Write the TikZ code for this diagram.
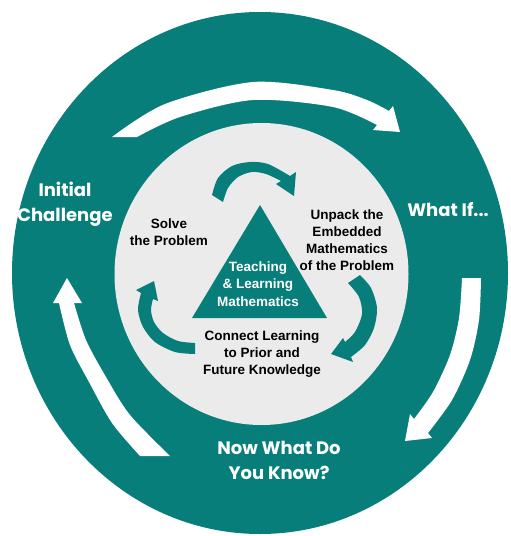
\documentclass[tikz,border=0pt]{standalone}
\usepackage{fontspec}
\setmainfont{Liberation Sans}
\newfontfamily\geofont{Poppins}
\definecolor{tealc}{HTML}{087E7A}
\definecolor{grayc}{HTML}{EBEBEB}
\tikzset{
  ringtext/.style={text=white, align=center, inner sep=0pt, font=\geofont\bfseries\fontsize{18}{25}\selectfont},
  innertext/.style={text=black, align=center, inner sep=0pt, font=\bfseries\fontsize{13.5}{16.8}\selectfont},
  tritext/.style={text=white, align=center, inner sep=0pt, font=\bfseries\fontsize{13.5}{17.5}\selectfont},
  whitearrow/.style={fill=white},
  tealarrow/.style={fill=tealc}
}
\begin{document}
\begin{tikzpicture}[x=1pt,y=-1pt]
\useasboundingbox (0,0) rectangle (511,536);
% rings
\fill[tealc] (260,273) ellipse [x radius=248pt, y radius=261pt];
\fill[grayc] (261.5,274) ellipse [x radius=147pt, y radius=151pt];
% outer white arrows
\fill[whitearrow] (112,137) -- (137,137)
  -- plot[smooth] coordinates {(137,137) (180,117) (253,100) (333,107) (377,125)}
  -- (373,130) -- (400,132) -- (393,106) -- (389,111)
  -- plot[smooth] coordinates {(389,111) (367,100) (333,90) (253,82) (165,104) (112,137)} -- cycle;
\fill[whitearrow] (462,278) -- (481,278)
  -- plot[smooth] coordinates {(481,278) (479,320) (470,360) (452,400) (428,433)}
  -- (432,438) -- (405,441) -- (410,414) -- (414,419)
  -- plot[smooth] coordinates {(414,419) (433,392) (450,355) (459,318) (462,278)} -- cycle;
\fill[whitearrow] (67,278) -- (82,303) -- (74,303)
  -- plot[smooth] coordinates {(74,303) (86,340) (106,377) (130,415) (170,456)}
  -- (140,456)
  -- plot[smooth] coordinates {(140,456) (112,423) (89,382) (70,345) (59,303)}
  -- (53,303) -- cycle;
% inner teal arrows
\fill[tealarrow] (212,195)
  -- plot[smooth] coordinates {(212,195) (218,178) (232,166) (250,162) (268,164) (290,176)}
  -- (296,172) -- (294,196) -- (276,184) -- (281,181)
  -- plot[smooth] coordinates {(281,181) (266,174) (252,172) (238,177) (228,188) (223,202)} -- cycle;
\fill[tealarrow] (348,283) -- (360,275)
  -- plot[smooth] coordinates {(360,275) (371,288) (377,308) (374,328) (365,345) (351,357)}
  -- (353,362) -- (331,354) -- (343,338) -- (345,342)
  -- plot[smooth] coordinates {(345,342) (355,332) (362,314) (359,297) (348,283)} -- cycle;
\fill[tealarrow] (195,343) -- (195,354)
  -- plot[smooth] coordinates {(195,354) (175,352) (155,342) (143,327) (138,310) (141,293)}
  -- (136,290) -- (154,281) -- (158,301) -- (153,299)
  -- plot[smooth] coordinates {(153,299) (151,310) (154,322) (163,333) (178,341) (195,343)} -- cycle;
% triangle
\fill[tealc] (260,205) -- (327,318) -- (192,318) -- cycle;
% texts
\node[tritext] (tri) at (258,284) {Teaching\\\& Learning\\Mathematics};
\node[innertext] (solve) at (169,232) {Solve\\the Problem};
\node[innertext] (unpack) at (347,240) {Unpack the\\Embedded\\Mathematics\\of the Problem};
\node[innertext] (connect) at (262,354) {Connect Learning\\to Prior and\\Future Knowledge};
\node[ringtext] (init) at (65,204) {Initial\\Challenge};
\node[ringtext] (whatif) at (448,210) {What If...};
\node[ringtext] (nowwhat) at (279,460) {Now What Do\\You Know?};
\end{tikzpicture}
\end{document}
